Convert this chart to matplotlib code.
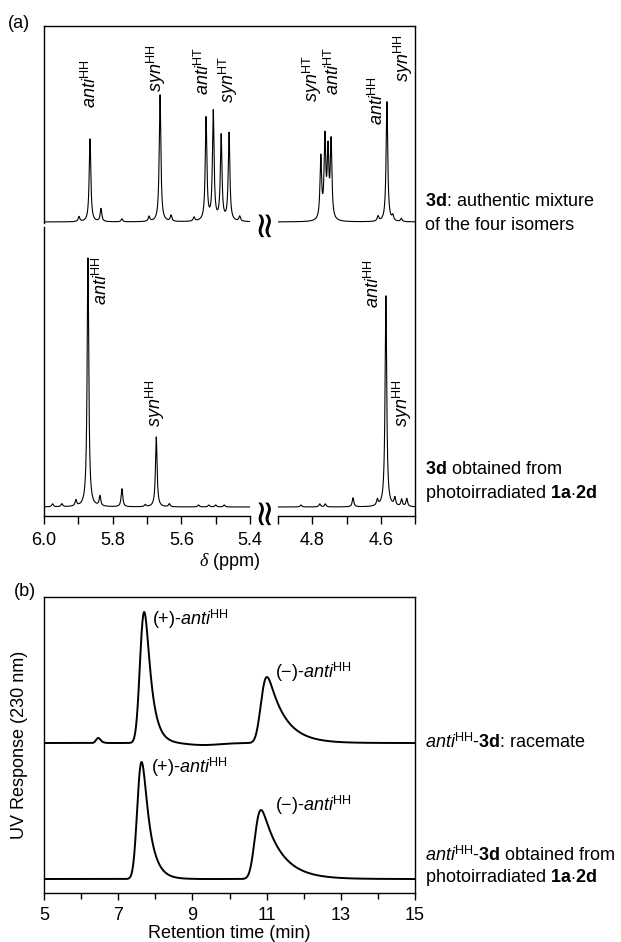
import numpy as np
import matplotlib
matplotlib.use('Agg')
import matplotlib.pyplot as plt

plt.rcParams.update({
    'font.family': 'Liberation Sans',
    'font.size': 13,
    'mathtext.fontset': 'custom',
    'mathtext.rm': 'Liberation Sans',
    'mathtext.it': 'Liberation Serif:italic',
    'mathtext.sf': 'Liberation Sans:italic',
    'mathtext.bf': 'Liberation Sans:bold',
    'axes.linewidth': 1.0,
})

# ---- (a) 1H NMR, peaks as (ppm, height); heights in px above baseline
top_l_ppm = [5.898, 5.866, 5.834, 5.773, 5.694, 5.662, 5.630, 5.563, 5.528, 5.507, 5.484, 5.461, 5.430]
top_l_int = [5, 83, 13, 3, 5, 127, 6, 4, 103, 109, 85, 88, 5]
top_r_ppm = [4.775, 4.763, 4.754, 4.745, 4.608, 4.582, 4.565, 4.540]
top_r_int = [62, 80, 66, 77, 5, 120, 5, 3]
bot_l_ppm = [5.975, 5.948, 5.907, 5.872, 5.837, 5.773, 5.705, 5.673, 5.635, 5.550, 5.520, 5.500, 5.475]
bot_l_int = [3, 3, 6, 249, 10, 18, 2, 70, 3, 2, 2, 2, 2]
bot_r_ppm = [4.833, 4.778, 4.762, 4.681, 4.610, 4.585, 4.559, 4.539, 4.524]
bot_r_int = [2, 3, 3, 9, 6, 211, 8, 7, 8]
top_base, bot_base = 294, 9

# ---- (b) HPLC, peaks as (apex time, height, sigma, tail)
rac_apex = [6.46, 7.70, 9.30, 11.01]
rac_height = [5, 131, -2, 66]
rac_sigma = [0.05, 0.09, 0.45, 0.11]
rac_tau = [0.05, 0.17, 0.05, 0.45]
pho_apex = [7.63, 10.85]
pho_height = [117, 69]
pho_sigma = [0.09, 0.11]
pho_tau = [0.20, 0.50]
rac_base, pho_base = 150, 14

W, H = 621, 942


def rect(x0, y0, x1, y1):
    return [x0 / W, 1 - y1 / H, (x1 - x0) / W, (y1 - y0) / H]


def ftext(x, y, s, **kw):
    fig.text(x / W, 1 - y / H, s, **kw)


def lorentz(x, pos, hts, hw=0.0028):
    y = np.zeros_like(x)
    for p, h in zip(pos, hts):
        y += h / (1 + ((x - p) / hw) ** 2)
    return y


def tailed(t, apex, h, sigma, tau):
    dt = t[1] - t[0]
    g = np.exp(-0.5 * ((t - apex) / sigma) ** 2)
    k = np.exp(-np.arange(0, 8 * tau, dt) / tau)
    y = np.convolve(g, k)[:len(t)]
    y = np.roll(y, -(np.argmax(y) - np.argmax(g)))
    return h * y / y.max()


fig = plt.figure(figsize=(W / 100, H / 100), dpi=100)

# frame of panel (a)
axF = fig.add_axes(rect(44, 26, 415, 516))
axF.set_ylim(0, 490)
axF.set_xticks([])
axF.set_yticks([])
axF.patch.set_visible(False)
for s in ['bottom', 'right']:
    axF.spines[s].set_visible(False)
axF.spines['left'].set_bounds(293, 490)

axL = fig.add_axes(rect(44, 26, 250, 516))
axR = fig.add_axes(rect(278, 26, 415, 516))
for ax in (axL, axR):
    ax.patch.set_visible(False)
    ax.set_ylim(0, 490)
    ax.set_yticks([])
    ax.spines['top'].set_visible(False)
    ax.tick_params(axis='x', which='major', direction='out', length=5.5, width=1.0, pad=6, labelsize=13)
    ax.tick_params(axis='x', which='minor', direction='out', length=5.5, width=1.0)
axL.spines['right'].set_visible(False)
axL.spines['left'].set_bounds(0, 289)
axR.spines['left'].set_visible(False)

xl = np.linspace(6.0, 5.4, 8000)
xr = np.linspace(4.9, 4.5, 6000)
lw_nmr = 0.8
axL.plot(xl, top_base + lorentz(xl, top_l_ppm, top_l_int), c='k', lw=lw_nmr)
axL.plot(xl, bot_base + lorentz(xl, bot_l_ppm, bot_l_int), c='k', lw=lw_nmr)
axR.plot(xr, top_base + lorentz(xr, top_r_ppm, top_r_int), c='k', lw=lw_nmr)
axR.plot(xr, bot_base + lorentz(xr, bot_r_ppm, bot_r_int), c='k', lw=lw_nmr)

axL.set_xlim(6.0, 5.4)
axL.set_xticks([6.0, 5.8, 5.6, 5.4])
axL.set_xticks([5.9, 5.7, 5.5], minor=True)
axL.set_xticklabels(['6.0', '5.8', '5.6', '5.4'])
axR.set_xlim(4.9, 4.5)
axR.set_xticks([4.8, 4.6])
axR.set_xticks([4.9, 4.7, 4.5], minor=True)
axR.set_xticklabels(['4.8', '4.6'])

anti = r'$\mathsf{anti}^{\mathrm{HH}}$'
antiHT = r'$\mathsf{anti}^{\mathrm{HT}}$'
syn = r'$\mathsf{syn}^{\mathrm{HH}}$'
synHT = r'$\mathsf{syn}^{\mathrm{HT}}$'
nmr_labels = [
    (axL, 5.866, 408, anti), (axL, 5.673, 424, syn),
    (axL, 5.536, 421, antiHT), (axL, 5.464, 413, synHT),
    (axR, 4.801, 414, synHT), (axR, 4.738, 421, antiHT),
    (axR, 4.611, 391, anti), (axR, 4.533, 434, syn),
    (axL, 5.834, 211, anti), (axL, 5.676, 89, syn),
    (axR, 4.623, 208, anti), (axR, 4.538, 89, syn),
]
for ax, x, y, s in nmr_labels:
    ax.text(x, y, s, rotation=90, rotation_mode='anchor', ha='left', va='center', fontsize=13)

# axis break marks
for y in (222, 510):
    ftext(264, y, '\u2248', rotation=90, ha='center', va='center', fontsize=26,
          family='DejaVu Sans')

ftext(230, 561, r'$\delta$ (ppm)', ha='center', va='center')
ftext(8, 23, '(a)', ha='left', va='center')
ftext(425, 202, r'$\mathbf{3d}$: authentic mixture', ha='left', va='center')
ftext(425, 225, 'of the four isomers', ha='left', va='center')
ftext(425, 470, r'$\mathbf{3d}$ obtained from', ha='left', va='center')
ftext(425, 493, r'photoirradiated $\mathbf{1a}$$\cdot$$\mathbf{2d}$', ha='left', va='center')

# ---- (b)
axB = fig.add_axes(rect(44, 597, 415, 893))
t = np.linspace(5, 15, 4001)
rac = rac_base + sum(tailed(t, a, h, s, k) for a, h, s, k in zip(rac_apex, rac_height, rac_sigma, rac_tau))
pho = pho_base + sum(tailed(t, a, h, s, k) for a, h, s, k in zip(pho_apex, pho_height, pho_sigma, pho_tau))
axB.plot(t, rac, c='k', lw=1.4)
axB.plot(t, pho, c='k', lw=1.4)
axB.set_xlim(5, 15)
axB.set_ylim(0, 296)
axB.set_yticks([])
axB.set_xticks([5, 7, 9, 11, 13, 15])
axB.set_xticks([6, 8, 10, 12, 14], minor=True)
axB.tick_params(axis='x', which='major', direction='out', length=5, width=1.0, pad=5, labelsize=13)
axB.tick_params(axis='x', which='minor', direction='out', length=4, width=1.0)

ftext(152, 619, '(+)-' + anti, ha='left', va='center')
ftext(275, 672, '(\u2212)-' + anti, ha='left', va='center')
ftext(151, 767, '(+)-' + anti, ha='left', va='center')
ftext(275, 805, '(\u2212)-' + anti, ha='left', va='center')

ftext(425, 742, anti + r'-$\mathbf{3d}$: racemate', ha='left', va='center')
ftext(425, 855, anti + r'-$\mathbf{3d}$ obtained from', ha='left', va='center')
ftext(425, 877, r'photoirradiated $\mathbf{1a}$$\cdot$$\mathbf{2d}$', ha='left', va='center')

ftext(14, 591, '(b)', ha='left', va='center')
ftext(20, 745, 'UV Response (230 nm)', rotation=90, ha='center', va='center')
ftext(229, 933, 'Retention time (min)', ha='center', va='center')

fig.savefig('out.png', dpi=100)
